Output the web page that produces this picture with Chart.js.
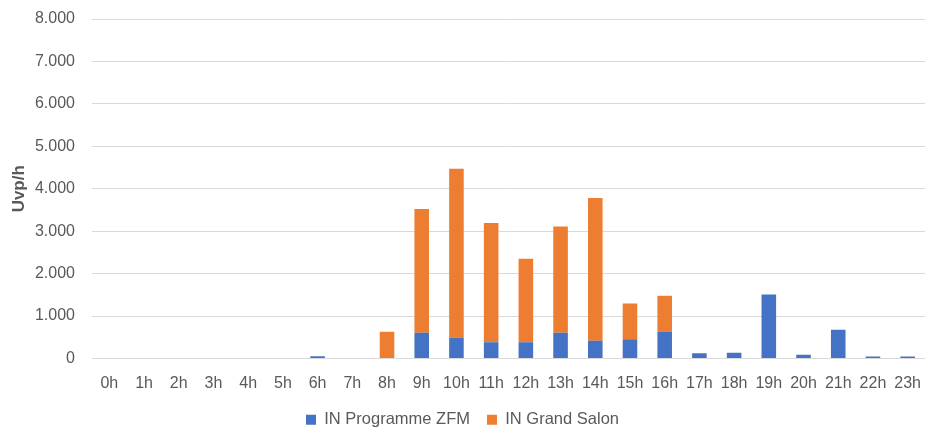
<!DOCTYPE html>
<html>
<head>
<meta charset="utf-8">
<script src="https://cdn.jsdelivr.net/npm/chart.js@4/dist/chart.umd.min.js"></script>
<style>
  html, body { margin: 0; padding: 0; background: #ffffff; }
  #wrap { width: 929px; height: 433px; position: relative; }
</style>
</head>
<body>
<div id="wrap"><canvas id="c"></canvas></div>
<script>
const categories = ["0h","1h","2h","3h","4h","5h","6h","7h","8h","9h","10h","11h","12h","13h","14h","15h","16h","17h","18h","19h","20h","21h","22h","23h"];
const programmeZFM = [0,0,0,0,0,0,54,0,0,605,487,384,384,605,416,454,635,125,134,1506,87,675,47,47];
const grandSalon   = [0,0,0,0,0,0,0,0,628,2917,3983,2809,1969,2508,3365,840,845,0,0,0,0,0,0,0];
const yTicks = [0,1000,2000,3000,4000,5000,6000,7000,8000];
const seriesNames = ["IN Programme ZFM","IN Grand Salon"];
const yTitle = "Uvp/h";

const font = "'Liberation Sans', 'DejaVu Sans', sans-serif";
const textColor = "#595959";
const gridColor = "#d9d9d9";

new Chart(document.getElementById('c'), {
  type: 'bar',
  data: {
    labels: categories,
    datasets: [
      { label: seriesNames[0], data: programmeZFM, backgroundColor: '#4472C4', borderWidth: 0, barPercentage: 0.42, categoryPercentage: 1.0 },
      { label: seriesNames[1], data: grandSalon, backgroundColor: '#ED7D31', borderWidth: 0, barPercentage: 0.42, categoryPercentage: 1.0 }
    ]
  },
  options: {
    responsive: true,
    maintainAspectRatio: false,
    animation: false,
    devicePixelRatio: 1,
    layout: { padding: { left: 0, right: 4, top: 19, bottom: -5 } },
    plugins: {
      tooltip: { enabled: false },
      legend: {
        position: 'bottom',
        labels: {
          color: textColor,
          font: { family: font, size: 16.5 },
          boxWidth: 10, boxHeight: 10,
          padding: 17
        }
      }
    },
    scales: {
      x: {
        stacked: true,
        afterFit: (s) => { s.height = 36; s.paddingLeft = 0; s.paddingRight = 0; },
        grid: { display: false, drawTicks: false },
        border: { display: false },
        ticks: { color: textColor, font: { family: font, size: 16 }, padding: 15, maxRotation: 0, autoSkip: false }
      },
      y: {
        stacked: true,
        min: 0, max: 8000,
        afterBuildTicks: (s) => { s.ticks = yTicks.map(v => ({ value: v })); },
        afterFit: (s) => { s.width = 92; s.paddingTop = 0; s.paddingBottom = 0; },
        grid: { color: gridColor, lineWidth: 1, drawTicks: false },
        border: { display: false },
        ticks: {
          color: textColor, font: { family: font, size: 16 }, padding: 17,
          callback: (v) => v.toLocaleString('de-DE')
        },
        title: { display: true, text: yTitle, color: textColor, font: { family: font, size: 17, weight: 'bold' }, padding: { top: 9, bottom: 0 } }
      }
    }
  }
});
</script>
</body>
</html>
